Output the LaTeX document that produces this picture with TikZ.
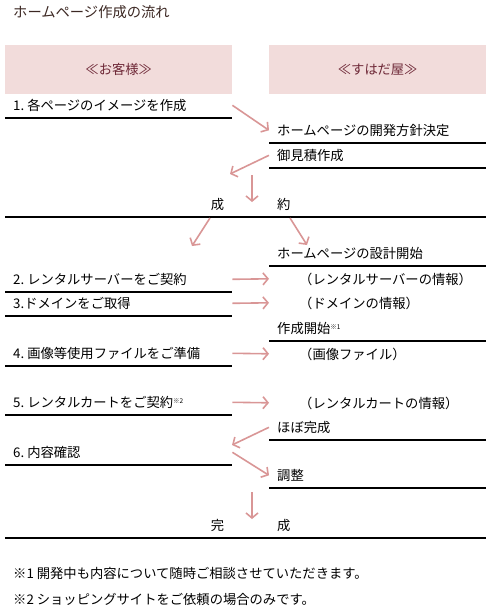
\documentclass[tikz,border=0pt]{standalone}
\usepackage{fontspec}
\setmainfont{Noto Sans CJK JP}
\usetikzlibrary{arrows.meta,positioning,calc}
\definecolor{hdrfill}{RGB}{242,220,219}
\definecolor{hdrtext}{RGB}{110,40,55}
\definecolor{flowpink}{RGB}{217,150,150}
\definecolor{titletext}{RGB}{60,40,35}
\tikzset{
  >={Straight Barb[length=5pt,width=12pt]},
  hdr/.style={fill=hdrfill, text=hdrtext, minimum width=227pt, minimum height=49pt, anchor=north west, inner sep=0pt},
  item/.style={anchor=south west, text width=211pt, align=left, inner xsep=8pt, inner ysep=7pt, text height=11pt, text depth=0pt},
  ritem/.style={item, text width=201pt},
  uline/.style={append after command={(\tikzlastnode.south west) edge[-, line width=1.2pt] (\tikzlastnode.south east)}},
  note/.style={anchor=base west, inner sep=0pt},
  flow/.style={->, draw=flowpink, line width=1.6pt},
}

\begin{document}
\begin{tikzpicture}[x=1pt, y=-1pt, font=\fontsize{13.3}{16}\selectfont]
  \useasboundingbox (0,0) rectangle (491,613);
  \node[note, text=titletext, font=\fontsize{14.3}{16}\selectfont] (title) at (13,17) {ホームページ作成の流れ};
  \node[hdr] (cust) at (5,45) {≪お客様≫};
  \node[hdr, minimum width=217pt] (shop) at (269,45) {≪すはだ屋≫};

  \node[item, uline] (s1) at (5,118) {1.\hspace{3pt}各ページのイメージを作成};
  \node[ritem, uline] (r1) at (269,143) {ホームページの開発方針決定};
  \node[ritem, uline] (r2) at (269,168) {御見積作成};
  \node[item, uline, text width=465pt, align=center] (seiyaku) at (5,217) {\hspace*{10pt}成\hspace{53pt}約};
  \node[ritem, uline] (r3) at (269,266) {ホームページの設計開始};
  \node[item, uline] (s2) at (5,292) {2.\hspace{3pt}レンタルサーバーをご契約};
  \node[ritem] (i1) at (269,291.5) {\hspace*{22pt}（レンタルサーバーの情報）};
  \node[item, uline] (s3) at (5,316) {3.ドメインをご取得};
  \node[ritem] (i2) at (269,315.5) {\hspace*{22pt}（ドメインの情報）};
  \node[ritem, uline] (r4) at (269,341) {作成開始\raisebox{4.5pt}{\fontsize{6.5}{7}\selectfont ※1}};
  \node[item, uline] (s4) at (5,366) {4.\hspace{3pt}画像等使用ファイルをご準備};
  \node[ritem] (i3) at (269,366.5) {\hspace*{22pt}（画像ファイル）};
  \node[item, uline] (s5) at (5,415) {5.\hspace{3pt}レンタルカートをご契約\raisebox{4.5pt}{\fontsize{6.5}{7}\selectfont ※2}};
  \node[ritem] (i4) at (269,415.5) {\hspace*{22pt}（レンタルカートの情報）};
  \node[ritem, uline] (r5) at (269,440) {ほぼ完成};
  \node[item, uline] (s6) at (5,465) {6.\hspace{3pt}内容確認};
  \node[ritem, uline] (r6) at (269,488) {調整};
  \node[item, uline, text width=465pt, align=center] (kansei) at (5,538) {\hspace*{10pt}完\hspace{53pt}成};

  \node[note] (fn1) at (13,578) {※1 開発中も内容について随時ご相談させていただきます。};
  \node[note] (fn2) at (13,604) {※2 ショッピングサイトをご依頼の場合のみです。};

  \coordinate (m1) at (230,174);
  \coordinate (d1a) at (252,175);
  \coordinate (d1b) at (252,202);
  \coordinate (c1a) at (210,218);
  \coordinate (c1b) at (192,246);
  \coordinate (c2a) at (290,218);
  \coordinate (c2b) at (307,245);
  \coordinate (m2) at (232,445);
  \coordinate (d2a) at (252,492);
  \coordinate (d2b) at (252,519);

  \draw[flow] (s1.east) -- (r1.west);
  \draw[flow] (r2.west) -- (m1);
  \draw[flow] (d1a) -- (d1b);
  \draw[flow] (c1a) -- (c1b);
  \draw[flow] (c2a) -- (c2b);
  \draw[flow] (s2.east) -- (i1.west);
  \draw[flow] (s3.east) -- (i2.west);
  \draw[flow] (s4.east) -- (i3.west);
  \draw[flow] (s5.east) -- (i4.west);
  \draw[flow] (r5.west) -- (m2);
  \draw[flow] (s6.east) -- (r6.west);
  \draw[flow] (d2a) -- (d2b);
\end{tikzpicture}
\end{document}
